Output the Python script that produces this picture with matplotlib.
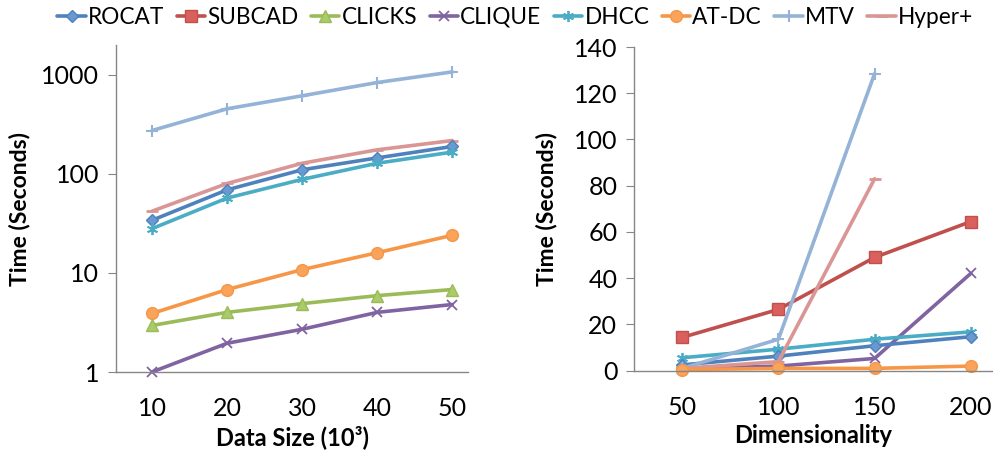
import numpy as np
import matplotlib
matplotlib.use("Agg")
import matplotlib.pyplot as plt

plt.rcParams['font.family'] = ['Lato', 'DejaVu Sans']

# ---- data ----
data_sizes = ["10", "20", "30", "40", "50"]
dims = ["50", "100", "150", "200"]

methods = ["ROCAT", "SUBCAD", "CLICKS", "CLIQUE", "DHCC", "AT-DC", "MTV", "Hyper+"]

# running time (seconds) vs data size (10^3), log scale
size_rocat = [34, 69, 110, 145, 189]
size_clicks = [2.95, 4.0, 4.9, 5.9, 6.8]
size_clique = [1.0, 1.95, 2.7, 4.0, 4.8]
size_dhcc = [28, 57, 88, 128, 166]
size_atdc = [3.9, 6.8, 10.8, 16, 24]
size_mtv = [274, 454, 614, 836, 1070]
size_hyper = [42, 80, 128, 175, 217]

# running time (seconds) vs dimensionality
dim_rocat = [2.5, 6.3, 10.8, 14.7]
dim_subcad = [14.4, 26.5, 49.0, 64.5]
dim_clique = [0.8, 2.0, 5.3, 42.1]
dim_dhcc = [5.6, 9.3, 13.6, 16.8]
dim_atdc = [0.5, 1.0, 1.0, 2.0]
dim_mtv = [1.0, 13.6, 128.5, np.nan]
dim_hyper = [1.0, 3.9, 83.0, np.nan]

styles = {
    "ROCAT": dict(color="#4F81BD", marker="D", ms=6.5, mfc="#6A98D0"),
    "SUBCAD": dict(color="#C0504D", marker="s", ms=8, mfc="#D9605C"),
    "CLICKS": dict(color="#9BBB59", marker="^", ms=8, mfc="#A9CB68"),
    "CLIQUE": dict(color="#8064A2", marker="x", ms=7, mew=1.3),
    "DHCC": dict(color="#4BACC6", marker=(6, 2, 0), ms=8, mew=1.3),
    "AT-DC": dict(color="#F79646", marker="o", ms=8.5, mfc="#F9A35B"),
    "MTV": dict(color="#95B3D7", marker="+", ms=9, mew=1.5),
    "Hyper+": dict(color="#D99694", marker="_", ms=8, mew=2),
}

LW = 2.6
SPINE = "#868686"
TICKFONT = ['Lato', 'DejaVu Sans']

fig = plt.figure(figsize=(9.93, 4.53), dpi=100)

# ---- left: data size ----
axL = fig.add_axes([116/993, (453-372)/453, (468-116)/993, (372-45)/453])
xs = np.arange(len(data_sizes))
left_series = {
    "ROCAT": size_rocat, "CLICKS": size_clicks, "CLIQUE": size_clique,
    "DHCC": size_dhcc, "AT-DC": size_atdc, "MTV": size_mtv, "Hyper+": size_hyper,
}
handles = {}
for name in ["MTV", "Hyper+", "ROCAT", "DHCC", "AT-DC", "CLICKS", "CLIQUE"]:
    st = styles[name]
    h, = axL.plot(xs, left_series[name], lw=LW, solid_capstyle="round",
                  mec=st["color"], **st)
    handles[name] = h
axL.set_yscale("log")
axL.set_ylim(1, 2000)
axL.set_xlim(-0.48, 4.21)
axL.set_yticks([1, 10, 100, 1000])
axL.set_yticklabels(["1", "10", "100", "1000"])
axL.minorticks_off()
axL.set_xticks(xs)
axL.set_xticklabels(data_sizes)
axL.set_xlabel("Data Size (10³)", fontsize=17, fontweight="bold", labelpad=4)
axL.set_ylabel("Time (Seconds)", fontsize=16.5, fontweight="bold", labelpad=8)

# ---- right: dimensionality ----
axR = fig.add_axes([634/993, (453-370.7)/453, (993-634)/993, (370.7-47)/453])
xd = np.arange(len(dims))
right_series = {
    "ROCAT": dim_rocat, "SUBCAD": dim_subcad, "CLIQUE": dim_clique,
    "DHCC": dim_dhcc, "AT-DC": dim_atdc, "MTV": dim_mtv, "Hyper+": dim_hyper,
}
for name in ["SUBCAD", "CLIQUE", "DHCC", "ROCAT", "MTV", "Hyper+", "AT-DC"]:
    st = styles[name]
    h, = axR.plot(xd, right_series[name], lw=LW, solid_capstyle="round",
                  mec=st["color"], **st)
    handles.setdefault(name, h)
axR.set_ylim(0, 140)
axR.set_xlim(-0.5, 3.23)
axR.set_yticks(np.arange(0, 141, 20))
axR.set_xticks(xd)
axR.set_xticklabels(dims)
axR.set_xlabel("Dimensionality", fontsize=17, fontweight="bold", labelpad=4)
axR.set_ylabel("Time (Seconds)", fontsize=16.5, fontweight="bold", labelpad=12)

for ax in (axL, axR):
    for s in ("top", "right"):
        ax.spines[s].set_visible(False)
    for s in ("left", "bottom"):
        ax.spines[s].set_color(SPINE)
        ax.spines[s].set_linewidth(1.0)
    ax.tick_params(axis="y", direction="out", length=6, color=SPINE,
                   labelsize=18, pad=6)
    ax.tick_params(axis="x", length=0, labelsize=18, pad=18)
    for lab in ax.get_xticklabels() + ax.get_yticklabels():
        lab.set_fontfamily(TICKFONT)
    ax.set_facecolor("none")
    for ln in ax.get_lines():
        ln.set_clip_on(False)

leg = fig.legend([handles[m] for m in methods], methods, loc="upper center",
                 bbox_to_anchor=(0.519, 1.015), ncol=8, frameon=False,
                 fontsize=16.3, handlelength=1.25, handletextpad=0.1,
                 columnspacing=0.55, borderaxespad=0.2)
for t in leg.get_texts():
    t.set_fontfamily(TICKFONT)

fig.savefig("out.png", dpi=100)
